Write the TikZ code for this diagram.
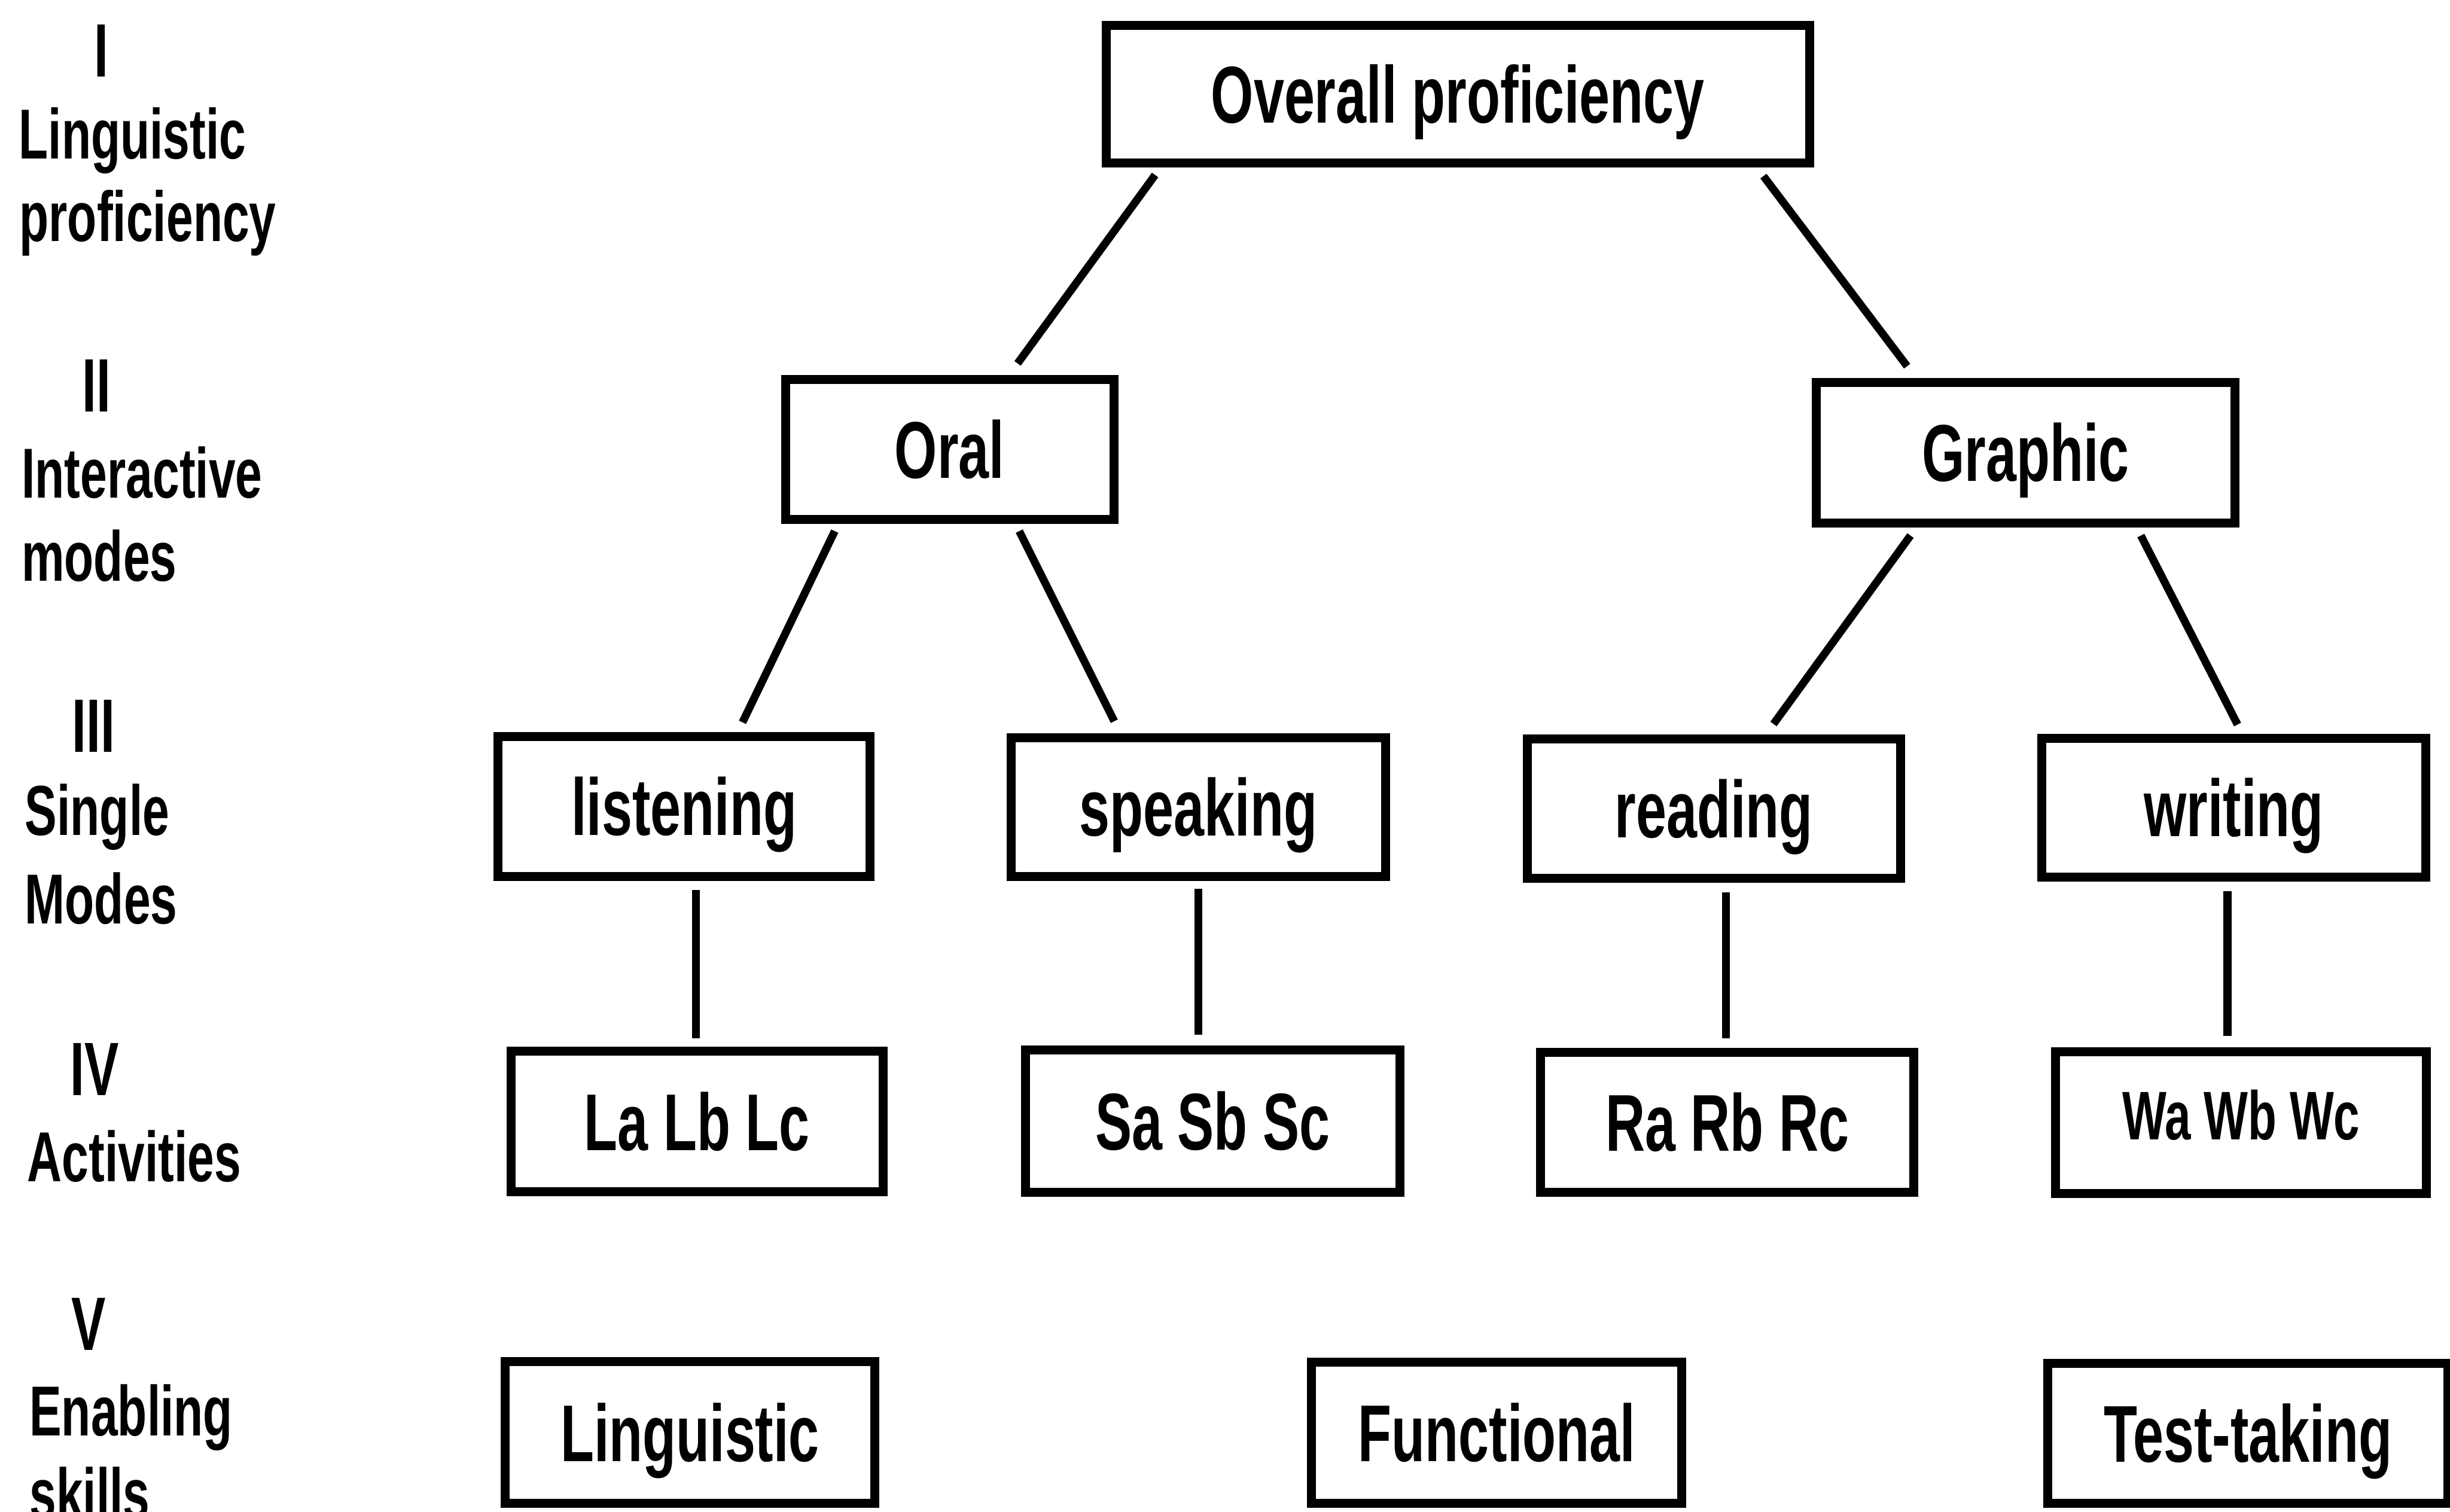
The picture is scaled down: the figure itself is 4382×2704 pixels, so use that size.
\documentclass[tikz,border=0pt]{standalone}
\usepackage{fontspec}
\newfontfamily\dfont{Liberation Sans}[FakeStretch=0.68]
\usetikzlibrary{calc}
\begin{document}
\begin{tikzpicture}[x=0.01cm, y=-0.01cm,
  box/.style={draw, line width=0.16cm, inner sep=0pt,
    font=\dfont\bfseries\fontsize{41}{45}\selectfont,
    text height=1.03cm, text depth=0cm},
  link/.style={line width=0.14cm},
  lab/.style={anchor=base west, inner sep=0pt,
    font=\dfont\bfseries\fontsize{36}{40}\selectfont},
  num/.style={anchor=base, inner sep=0pt,
    font=\dfont\bfseries\fontsize{38.5}{40}\selectfont}]
\useasboundingbox (0,0) rectangle (4382,2704);
\clip (0,0) rectangle (4382,2704);

% level labels
\node[num] (n1) at (181,137) {I};
\node[lab] (l1a) at (33,284) {Linguistic};
\node[lab] (l1b) at (34,432) {proficiency};
\node[num] (n2) at (173,737) {II};
\node[lab] (l2a) at (38,891) {Interactive};
\node[lab] (l2b) at (38,1039) {modes};
\node[num] (n3) at (167,1345) {III};
\node[lab] (l3a) at (44,1494) {Single};
\node[lab] (l3b) at (44,1652) {Modes};
\node[num] (n4) at (169,1959) {IV};
\node[lab] (l4a) at (48,2113) {Activities};
\node[num] (n5) at (159,2415) {V};
\node[lab] (l5a) at (52,2568) {Enabling};
\node[lab] (l5b) at (52,2716) {skills};

% tree boxes
\node[box, minimum width=12.57cm, minimum height=2.45cm] (top) at (2607.5,168.5) {Overall proficiency};
\node[box, minimum width=5.87cm, minimum height=2.50cm] (oral) at (1698.5,804) {Oral};
\node[box, minimum width=7.48cm, minimum height=2.51cm] (graphic) at (3623,809.5) {Graphic};
\node[box, minimum width=6.65cm, minimum height=2.50cm] (listen) at (1223.5,1443) {listening};
\node[box, minimum width=6.69cm, minimum height=2.48cm] (speak) at (2143.5,1444) {speaking};
\node[box, minimum width=6.67cm, minimum height=2.49cm] (read) at (3065.5,1446.5) {reading};
\node[box, minimum width=6.86cm, minimum height=2.48cm] (write) at (3995,1445) {writing};
\node[box, minimum width=6.65cm, minimum height=2.52cm] (lact) at (1246.5,2006) {La Lb Lc};
\node[box, minimum width=6.70cm, minimum height=2.55cm] (sact) at (2169,2005.5) {Sa Sb Sc};
\node[box, minimum width=6.67cm, minimum height=2.51cm] (ract) at (3089.5,2007.5) {Ra Rb Rc};
\node[box, minimum width=6.63cm, minimum height=2.54cm,
  font=\dfont\bfseries\fontsize{35}{40}\selectfont,
  text height=0.88cm, text depth=0.28cm] (wact) at (4008.5,2008) {Wa Wb Wc};
\node[box, minimum width=6.60cm, minimum height=2.53cm] (ling) at (1234,2562.5) {Linguistic};
\node[box, minimum width=6.62cm, minimum height=2.52cm] (func) at (2677,2563) {Functional};
\node[box, minimum width=7.15cm, minimum height=2.50cm] (test) at (4020.5,2564) {Test-taking};

% connectors
\draw[link] ($(top.center)+(-541.5,144.5)$) -- ($(oral.center)+(121.5,-154)$);
\draw[link] ($(top.center)+(546.5,146.5)$) -- ($(graphic.center)+(-212,-154.5)$);
\draw[link] ($(oral.center)+(-205.5,146)$) -- ($(listen.center)+(104.5,-151)$);
\draw[link] ($(oral.center)+(124.5,146)$) -- ($(speak.center)+(-150.5,-154)$);
\draw[link] ($(graphic.center)+(-206,148.5)$) -- ($(read.center)+(106.5,-151.5)$);
\draw[link] ($(graphic.center)+(206,148.5)$) -- ($(write.center)+(7,-149)$);
\draw[link] ($(listen.center)+(21.5,149)$) -- ($(lact.center)+(-1.5,-149)$);
\draw[link] ($(speak.center)+(-0.5,146)$) -- ($(sact.center)+(-26,-154.5)$);
\draw[link] ($(read.center)+(21.5,149.5)$) -- ($(ract.center)+(-2.5,-150.5)$);
\draw[link] ($(write.center)+(-11,149)$) -- ($(wact.center)+(-24.5,-155)$);
\end{tikzpicture}
\end{document}
